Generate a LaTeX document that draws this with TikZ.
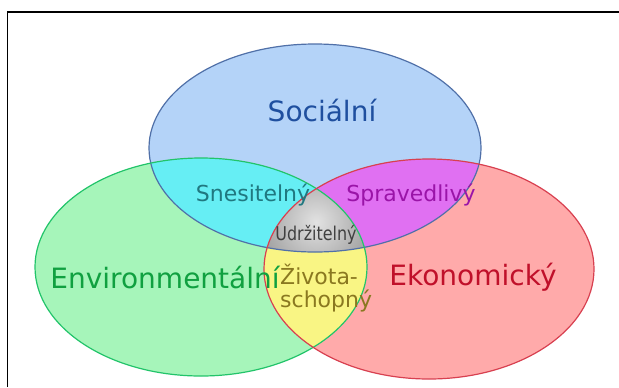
\documentclass[tikz,border=0pt]{standalone}
\usepackage{fontspec}
\setmainfont{DejaVu Sans}
\begin{document}
\begin{tikzpicture}[x=1bp,y=-1bp,
  lbl/.style={inner sep=0pt, anchor=center},
  big/.style={lbl, font=\fontsize{28bp}{32bp}\selectfont},
  mid/.style={lbl, font=\fontsize{22bp}{24bp}\selectfont},
  edge/.style={line width=1.2bp}]
\definecolor{blueF}{HTML}{B4D3F8}
\definecolor{greenF}{HTML}{A6F5BA}
\definecolor{redF}{HTML}{FFAAAA}
\definecolor{cyanF}{HTML}{66EEF4}
\definecolor{magF}{HTML}{E070F2}
\definecolor{yelF}{HTML}{F9F584}
\definecolor{blueS}{HTML}{5070A8}
\definecolor{greenS}{HTML}{22C46A}
\definecolor{redS}{HTML}{D84050}
\definecolor{blueT}{HTML}{1F4F9F}
\definecolor{greenT}{HTML}{10A040}
\definecolor{redT}{HTML}{C0102A}
\definecolor{cyanT}{HTML}{207880}
\definecolor{magT}{HTML}{9A14A8}
\definecolor{grayT}{HTML}{404040}
\definecolor{yelT}{HTML}{8A7820}
\definecolor{grayIn}{HTML}{E2E2E2}
\definecolor{grayOut}{HTML}{8E8E8E}
\useasboundingbox (0,0) rectangle (619,387);
\fill[white] (0,0) rectangle (619,387);
% base fills
\fill[blueF] (315,148) ellipse [x radius=166, y radius=104];
\fill[greenF] (201,267) ellipse [x radius=166, y radius=109];
\fill[redF] (429,269) ellipse [x radius=165, y radius=110];
% pairwise overlaps
\begin{scope}
  \clip (315,148) ellipse [x radius=166, y radius=104];
  \fill[cyanF] (201,267) ellipse [x radius=166, y radius=109];
  \fill[magF] (429,269) ellipse [x radius=165, y radius=110];
\end{scope}
\begin{scope}
  \clip (201,267) ellipse [x radius=166, y radius=109];
  \fill[yelF] (429,269) ellipse [x radius=165, y radius=110];
\end{scope}
% triple overlap
\begin{scope}
  \clip (315,148) ellipse [x radius=166, y radius=104];
  \clip (201,267) ellipse [x radius=166, y radius=109];
  \clip (429,269) ellipse [x radius=165, y radius=110];
  \shade[inner color=grayIn, outer color=grayOut] (316,222) circle [radius=72];
\end{scope}
% outlines
\draw[edge, blueS] (315,148) ellipse [x radius=166, y radius=104];
\draw[edge, greenS] (201,267) ellipse [x radius=166, y radius=109];
\draw[edge, redS] (429,269) ellipse [x radius=165, y radius=110];
% frame
\draw[line width=1.5bp] (7.5,387) -- (7.5,12) -- (619,12);
% labels
\node[big, text=blueT] (soc) at (322,110) {Sociální};
\node[big, text=greenT] (env) at (165,277) {Environmentální};
\node[big, text=redT] (eko) at (473,277) {Ekonomický};
\node[mid, text=cyanT] (sne) at (253,195) {Snesitelný};
\node[mid, text=magT] (spr) at (411,195) {Spravedlivý};
\node[lbl, text=grayT, font=\fontsize{19bp}{21bp}\selectfont, xscale=0.84] (udr) at (316,235) {Udržitelný};
\node[lbl, text=yelT, font=\fontsize{22bp}{23bp}\selectfont, align=left, anchor=north west] (ziv) at (280,264) {Života-\\schopný};
\end{tikzpicture}
\end{document}
